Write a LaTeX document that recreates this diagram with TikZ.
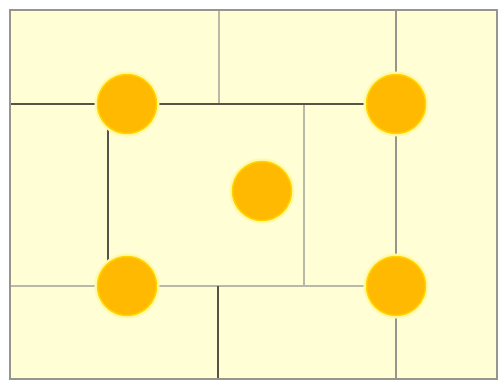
\documentclass[tikz,border=0pt]{standalone}
\usepackage{tikz}
\usetikzlibrary{backgrounds}
\definecolor{paper}{RGB}{255,254,212}
\definecolor{sunfill}{RGB}{255,185,0}
\definecolor{sunrim}{RGB}{255,212,0}
\definecolor{halo}{RGB}{255,250,170}
\definecolor{darkline}{RGB}{85,85,70}
\definecolor{midline}{RGB}{150,150,140}
\definecolor{paleline}{RGB}{185,185,170}

\begin{document}
\begin{tikzpicture}[
  x=1pt, y=-1pt,
  sun/.style={circle, fill=sunfill, draw=sunrim, line width=1.5pt, minimum size=59pt, inner sep=0pt,
    preaction={draw=halo, line width=6pt}},
  dark wall/.style={draw=darkline, line width=2pt},
  mid wall/.style={draw=midline, line width=1.6pt},
  pale wall/.style={draw=paleline, line width=1.4pt}
]
  \useasboundingbox (0,0) rectangle (499,380);

  \node[sun] (tl)  at (127,104) {};
  \node[sun] (tr)  at (396,104) {};
  \node[sun] (mid) at (262,191) {};
  \node[sun] (bl)  at (127,286) {};
  \node[sun] (br)  at (396,286) {};

  \coordinate (w1) at (10,104);
  \coordinate (w2) at (10,286);
  \coordinate (n1) at (219,10);
  \coordinate (c1) at (219,104);
  \coordinate (n2) at (396,10);
  \coordinate (s2) at (396,379);
  \coordinate (c2) at (304,104);
  \coordinate (c3) at (304,286);
  \coordinate (c4) at (218,286);
  \coordinate (s1) at (218,379);

  \begin{scope}[on background layer]
    \fill[paper] (10,10) rectangle (497,379);
    % pale grid lines
    \draw[pale wall] (n1) -- (c1);
    \draw[pale wall] (c2) -- (c3);
    \draw[pale wall] (w2) -- (bl) -- (br);
    \draw[mid wall] (n2) -- (tr) -- (br) -- (s2);
    % dark walls
    \draw[dark wall] (w1) -- (tl) -- (tr);
    \draw[dark wall] (tl.231) -- (bl.129);
    \draw[dark wall] (c4) -- (s1);
    \draw[midline, line width=1.6pt] (10,10) rectangle (497,379);
  \end{scope}
\end{tikzpicture}
\end{document}
